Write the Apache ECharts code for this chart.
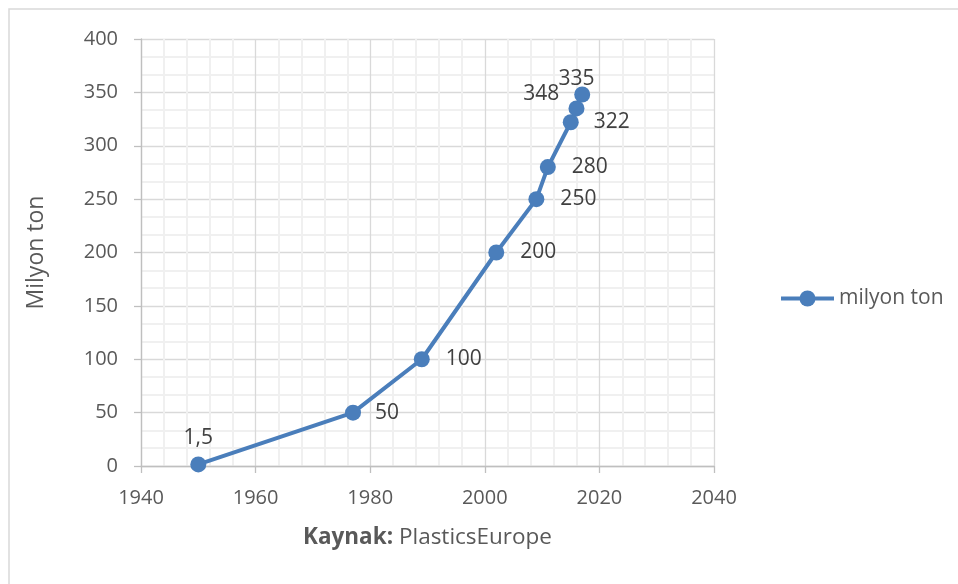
<!DOCTYPE html>
<html>
<head>
<meta charset="utf-8">
<script src="https://cdn.jsdelivr.net/npm/echarts@6/dist/echarts.min.js"></script>
<style>
html,body{margin:0;padding:0;background:#fff;}
#c{width:958px;height:584px;}
</style>
</head>
<body>
<div id="c"></div>
<script>
var years = [1950, 1977, 1989, 2002, 2009, 2011, 2015, 2016, 2017];
var values = [1.5, 50, 100, 200, 250, 280, 322, 335, 348];
var seriesName = 'milyon ton';
var yTitle = 'Milyon ton';
var xTitleBold = 'Kaynak:';
var xTitleRest = ' PlasticsEurope';

// label placement per point (style only)
var labelPlace = ['top', 'right', 'right', 'right', 'right', 'right', 'right', 'top', 'left'];
var labelDist = [8, 14, 16, 16, 16, 16, 15, 11, 15];

var FONT = 'Open Sans';
var BLUE = '#4a7ebb';

var data = years.map(function (y, i) {
  return {
    value: [y, values[i]],
    label: { position: labelPlace[i], distance: labelDist[i] }
  };
});

var chart = echarts.init(document.getElementById('c'), null, { renderer: 'canvas' });
chart.setOption({
  animation: false,
  backgroundColor: '#fff',
  textStyle: { fontFamily: FONT },
  graphic: [{
    type: 'rect',
    shape: { x: 9, y: 9, width: 1100, height: 800 },
    style: { fill: 'none', stroke: '#d9d9d9', lineWidth: 1.5 },
    silent: true
  }],
  grid: { left: 141, top: 39, right: 244, bottom: 118, containLabel: false },
  legend: {
    left: 779, top: 288, padding: 0,
    itemWidth: 53, itemHeight: 20,
    lineStyle: { width: 4, color: BLUE },
    textStyle: { fontFamily: FONT, fontSize: 21, color: '#595959' },
    data: [seriesName]
  },
  xAxis: {
    type: 'value', min: 1940, max: 2040, interval: 20,
    name: '{b|' + xTitleBold + '}{r|' + xTitleRest + '}',
    nameLocation: 'middle', nameGap: 60,
    nameTextStyle: {
      rich: {
        b: { fontFamily: FONT, fontSize: 22.5, fontWeight: 'bold', color: '#595959' },
        r: { fontFamily: FONT, fontSize: 22.5, color: '#595959' }
      }
    },
    axisLine: { show: true, lineStyle: { color: '#bfbfbf', width: 1.3 } },
    axisTick: { show: true, length: 7, lineStyle: { color: '#bfbfbf', width: 1.3 } },
    axisLabel: { margin: 22, fontSize: 20, color: '#595959', fontFamily: FONT,
      formatter: function (v) { return String(v); } },
    splitLine: { show: true, lineStyle: { color: '#d9d9d9', width: 1.3 } },
    minorTick: { show: false, splitNumber: 5 },
    minorSplitLine: { show: true, lineStyle: { color: '#f0f0f0', width: 2 } }
  },
  yAxis: {
    type: 'value', min: 0, max: 400, interval: 50,
    name: yTitle, nameLocation: 'middle', nameGap: 93, nameRotate: 90,
    nameTextStyle: { fontFamily: FONT, fontSize: 23, color: '#595959' },
    axisLine: { show: true, lineStyle: { color: '#bfbfbf', width: 1.3 } },
    axisTick: { show: true, length: 7, lineStyle: { color: '#bfbfbf', width: 1.3 } },
    axisLabel: { margin: 23, fontSize: 20, color: '#595959', fontFamily: FONT },
    splitLine: { show: true, lineStyle: { color: '#d9d9d9', width: 1.3 } },
    minorTick: { show: false, splitNumber: 3 },
    minorSplitLine: { show: true, lineStyle: { color: '#f0f0f0', width: 2 } }
  },
  series: [{
    name: seriesName,
    type: 'line',
    data: data,
    symbol: 'circle',
    symbolSize: 16,
    itemStyle: { color: BLUE },
    lineStyle: { color: BLUE, width: 4 },
    label: {
      show: true, fontFamily: FONT, fontSize: 21, color: '#404040',
      formatter: function (p) { return String(p.value[1]).replace('.', ','); }
    },
    z: 3
  }]
});
</script>
</body>
</html>
